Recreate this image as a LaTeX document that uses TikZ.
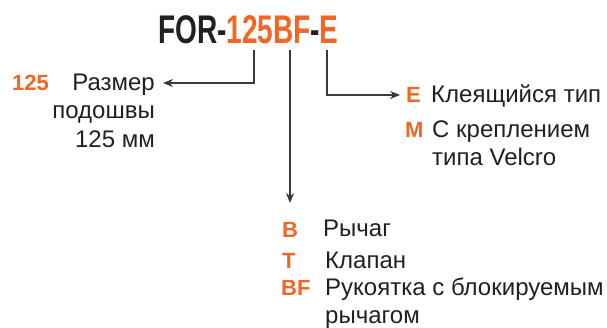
\documentclass[tikz,border=0pt]{standalone}
\usepackage{fontspec}
\usepackage{graphicx}
\setmainfont{Liberation Sans}
\usetikzlibrary{arrows.meta}
\definecolor{txtgray}{HTML}{231F20}
\definecolor{codeorange}{HTML}{F26522}
\definecolor{linegray}{HTML}{3A3A3A}
\tikzset{
  lbl/.style={inner sep=0pt, anchor=base west, text=txtgray, font=\fontsize{24}{28}\selectfont},
  lblr/.style={lbl, anchor=base east},
  code/.style={inner sep=0pt, anchor=base west, text=codeorange, font=\fontsize{22}{24}\selectfont\bfseries},
  conn/.style={draw=linegray, line width=1.1pt, -{Stealth[length=10pt,width=8pt]}}
}
\begin{document}
\begin{tikzpicture}[x=1pt,y=-1pt]
\useasboundingbox (0,0) rectangle (607,327);
% title
\node[inner sep=0pt, anchor=base west, font=\fontsize{40}{44}\selectfont\bfseries] (title) at (158,43)
  {\scalebox{0.70}[1]{\textcolor{txtgray}{FOR-}\textcolor{codeorange}{125BF}\textcolor{txtgray}{-}\textcolor{codeorange}{E}}};
% tick start coordinates
\coordinate (t1) at (254,50);
\coordinate (t2) at (290,50);
\coordinate (t3) at (327,50);
% left block
\node[code] (c125) at (12,90) {125};
\node[lblr] (l1a) at (155,90) {Размер};
\node[lblr] (l1b) at (155,118.5) {подошвы};
\node[lblr] (l1c) at (155,147) {125 мм};
\coordinate (e1) at (163,83);
% right block
\node[code] (cE) at (406,102) {E};
\node[lbl] (rE) at (431,102) {Клеящийся тип};
\node[code] (cM) at (405,137) {M};
\node[lbl] (rMa) at (432,137) {С креплением};
\node[lbl] (rMb) at (432,165) {типа Velcro};
\coordinate (e3) at (400,95);
% bottom block
\node[code] (cB) at (282,237) {B};
\node[lbl] (bB) at (323,236) {Рычаг};
\node[code] (cT) at (282,268) {T};
\node[lbl] (bT) at (325,268) {Клапан};
\node[code] (cBF) at (281,295) {BF};
\node[lbl] (bBFa) at (325,295) {Рукоятка с блокируемым};
\node[lbl] (bBFb) at (325,323) {рычагом};
\coordinate (e2) at (290,203);
% connectors
\draw[conn] (t1) |- (e1);
\draw[conn] (t2) -- (e2);
\draw[conn] (t3) |- (e3);
\end{tikzpicture}
\end{document}
